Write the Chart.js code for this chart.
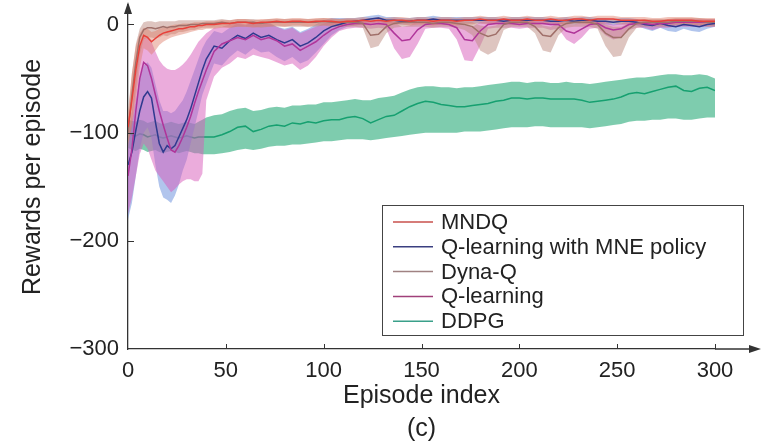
<!DOCTYPE html>
<html><head><meta charset="utf-8">
<script src="https://cdn.jsdelivr.net/npm/chart.js@4.4.0/dist/chart.umd.min.js"></script>
<style>html,body{margin:0;padding:0;background:#fff;}</style>
</head><body>
<canvas id="c" width="763" height="446"></canvas>
<script>
// ---------- data ----------
const EP = [0,2,4,6,8,10,12,14,16,18,20,22,24,26,28,30,32,34,36,38,40,
  44,48,52,56,60,64,68,72,76,80,84,88,92,96,100,104,108,112,116,120,
  124,128,132,136,140,144,148,152,156,160,164,168,172,176,180,184,188,192,196,200,
  204,208,212,216,220,224,228,232,236,240,244,248,252,256,260,264,268,272,276,280,
  284,288,292,296,300];

const SERIES_NAMES = ['MNDQ', 'Q-learning with MNE policy', 'Dyna-Q', 'Q-learning', 'DDPG'];
const X_TICKS = [0, 50, 100, 150, 200, 250, 300];
const Y_TICKS = [-300, -200, -100, 0];

const MNDQ_MEAN = [-95,-70,-42,-20,-10,-12,-16,-13,-10,-8,-7,-6,-5,-4,-4,-3,-2,-2,-1,-1,0,
  0,1,1,2,2,1,2,2,3,2, 3,3,2,3,3,3,2,3,3,4, 3,4,3,4,4,3,4,4,3,4,
  4,3,4,4,5,4,4,5,4,4, 5,4,4,5,4,4,5,5,4,5, 5,5,4,4,4,4,3,3,4,4, 4,4,3,3,3];
const MNDQ_HI = [-80,-45,-20,-8,-3,-4,-7,-6,-4,-3,-2,-1,0,0,1,1,1,2,2,2,3,
  3,4,4,5,5,4,5,5,6,5, 6,6,5,6,6,6,5,6,6,7, 6,7,6,7,7,6,7,7,6,7,
  7,6,7,7,8,7,7,8,7,7, 8,7,7,8,7,7,8,8,7,8, 8,8,7,7,7,7,6,6,7,7, 7,7,6,6,6];
const MNDQ_LO = [-110,-95,-70,-40,-22,-24,-28,-24,-19,-16,-14,-12,-11,-10,-9,-8,-7,-6,-5,-5,-4,
  -4,-3,-3,-2,-2,-3,-2,-2,-1,-2, -1,-1,-2,-1,-1,-1,-2,-1,-1,0, -1,0,-1,0,0,-1,0,0,-1,0,
  0,-1,0,0,1,0,0,1,0,0, 1,0,0,1,0,0,1,1,0,1, 1,1,0,0,0,0,-1,-1,0,0, 0,0,-1,-1,-1];

const MNE_MEAN = [-130,-118,-98,-80,-67,-62,-68,-90,-110,-118,-112,-115,-112,-104,-96,-88,-78,-66,-54,-42,-32,
  -20,-22,-15,-10,-13,-8,-12,-10,-14,-17, -14,-20,-17,-12,-6,-2,0,2,3,4, 5,6,4,4,3,3,4,4,5,4,
  4,4,4,4,4,4,4,3,4,4, 4,4,4,3,3,4,3,4,4,3, 3,2,3,3,2,0,-1,1,-1,-2, 0,-1,-2,0,1];
const MNE_HI = [-100,-90,-70,-50,-38,-35,-40,-55,-70,-80,-80,-82,-80,-75,-70,-62,-52,-42,-32,-22,-15,
  -6,-8,-3,1,-1,3,0,2,-2,-4, -2,-7,-4,0,4,6,6,6,6,7, 8,9,7,7,6,6,7,7,8,7,
  7,7,7,7,7,7,7,6,7,7, 7,7,7,6,6,7,6,7,7,6, 6,5,6,6,5,3,3,4,3,2, 4,3,2,4,4];
const MNE_LO = [-180,-165,-140,-115,-100,-95,-105,-130,-150,-160,-162,-165,-158,-148,-135,-125,-110,-95,-80,-65,-55,
  -36,-38,-30,-24,-28,-22,-26,-25,-30,-34, -30,-36,-33,-26,-18,-10,-5,-2,-1,0, 1,2,1,1,0,0,1,1,2,1,
  1,1,1,1,1,1,1,0,1,1, 1,1,1,0,0,1,0,1,1,0, 0,-1,0,0,-1,-4,-6,-3,-6,-7, -4,-6,-7,-4,-2];

const DYNAQ_MEAN = [-100,-65,-35,-12,-5,-3,-3,-4,-3,-2,-3,-2,-2,-1,-1,-1,0,0,0,1,1,
  1,2,1,2,2,2,1,2,2,2, 2,2,2,2,3,2,2,2,2,1, -10,-9,-2,1,2,2,2,2,1,2,
  2,1,0,-2,-8,-11,-9,0,2,2, 2,-2,-10,-11,-3,1,2,2,2,0, -8,-12,-12,-4,1,2,2,2,2,3, 3,3,3,2,2];
const DYNAQ_HI = [-85,-45,-18,-4,2,3,3,2,3,3,3,3,3,4,4,4,4,4,4,4,4,
  4,5,4,5,5,5,4,5,5,5, 5,5,5,5,6,5,5,5,5,4, -1,0,3,4,5,5,5,5,4,5,
  5,4,3,2,-1,-2,-1,3,5,5, 5,2,-1,-2,1,4,5,5,5,3, 0,-2,-2,1,4,5,5,5,5,6, 6,6,6,5,5];
const DYNAQ_LO = [-115,-90,-60,-28,-14,-12,-12,-13,-12,-10,-11,-9,-9,-7,-7,-6,-5,-5,-4,-3,-3,
  -3,-2,-3,-2,-2,-2,-3,-2,-2,-2, -2,-2,-2,-2,-1,-2,-2,-2,-2,-3, -22,-20,-8,-3,-2,-2,-2,-2,-3,-2,
  -2,-3,-5,-10,-24,-28,-24,-5,-2,-2, -2,-8,-24,-26,-10,-3,-2,-2,-2,-4, -20,-30,-29,-12,-3,-2,-2,-2,-2,-1, -1,-1,-1,-2,-2];

const QL_MEAN = [-140,-115,-80,-50,-35,-38,-50,-65,-80,-93,-105,-116,-118,-112,-104,-95,-85,-73,-62,-52,-42,
  -25,-18,-15,-12,-14,-10,-14,-12,-15,-20, -18,-24,-20,-16,-10,-5,-2,0,1,1, 0,1,0,-8,-15,-14,-5,0,1,1,
  0,-3,-14,-15,-6,0,1,1,1,0, 1,1,1,0,0,-6,-8,-4,0,1, -3,-5,-4,0,1,1,0,1,1,2, 2,2,2,2,2];
const QL_HI = [-110,-80,-45,-22,-12,-12,-16,-25,-33,-38,-41,-42,-42,-40,-37,-33,-28,-22,-16,-12,-8,
  -3,-2,0,2,0,2,0,1,-2,-5, -3,-8,-5,-2,1,3,3,4,4,4, 3,4,3,2,-2,-1,3,4,4,4,
  3,2,-1,-2,2,3,4,4,4,3, 4,4,4,3,3,1,0,2,3,4, 2,0,1,3,4,4,3,4,4,5, 5,5,5,5,5];
const QL_LO = [-175,-160,-140,-120,-110,-115,-125,-135,-140,-145,-150,-155,-152,-148,-145,-143,-143,-145,-145,-138,-70,
  -48,-40,-36,-30,-32,-28,-30,-32,-35,-38, -36,-42,-38,-30,-20,-12,-6,-4,-3,-3, -4,-3,-4,-22,-32,-30,-18,-4,-3,-3,
  -4,-14,-33,-34,-20,-4,-3,-3,-3,-4, -3,-3,-3,-5,-4,-14,-18,-12,-4,-3, -10,-14,-12,-5,-3,-3,-5,-3,-3,-2, -2,-2,-2,-2,-2];

const DDPG_MEAN = [-100,-102,-103,-101,-102,-104,-103,-102,-104,-105,-104,-103,-104,-105,-104,-103,-104,-105,-104,-104,-104,
  -104,-102,-99,-95,-94,-99,-97,-94,-93,-94, -91,-92,-90,-91,-89,-88,-88,-86,-85,-87, -91,-88,-85,-84,-80,-76,-73,-71,-72,-74,
  -75,-76,-76,-75,-74,-73,-71,-70,-68,-68, -69,-68,-68,-69,-69,-69,-69,-70,-72,-71, -70,-69,-67,-64,-63,-64,-62,-60,-58,-57, -61,-62,-59,-58,-61];
const DDPG_HI = [-88,-89,-90,-88,-89,-91,-90,-89,-91,-92,-91,-90,-91,-92,-91,-90,-91,-92,-90,-88,-86,
  -84,-83,-80,-78,-77,-80,-79,-77,-76,-77, -75,-75,-74,-74,-72,-72,-71,-70,-69,-70, -70,-68,-67,-66,-63,-60,-58,-57,-57,-58,
  -58,-59,-58,-58,-57,-56,-55,-54,-53,-53, -54,-53,-53,-54,-54,-53,-54,-54,-55,-54, -53,-52,-51,-50,-49,-49,-48,-47,-46,-46, -47,-47,-46,-47,-50];
const DDPG_LO = [-114,-116,-117,-115,-116,-118,-117,-116,-118,-119,-118,-117,-118,-119,-118,-117,-118,-119,-119,-120,-120,
  -120,-119,-118,-116,-115,-116,-115,-113,-112,-112, -111,-111,-110,-109,-108,-108,-107,-106,-106,-106, -107,-106,-105,-104,-103,-102,-101,-100,-100,-100,
  -100,-100,-99,-99,-99,-98,-97,-96,-95,-95, -95,-94,-94,-95,-95,-95,-95,-95,-96,-95, -94,-93,-92,-90,-89,-89,-88,-88,-87,-87, -88,-88,-87,-86,-86];

// ---------- styles ----------
const FONT = "'Liberation Sans', Arial, Helvetica, sans-serif";
const AXIS = '#333';
const STYLE = {
  'MNDQ':                       {line:'#e8403a', band:'rgba(222,125,105,0.45)', legend:'#c9504c', lineOrder:2, bandOrder:15},
  'Q-learning with MNE policy': {line:'#2f3a8f', band:'rgba(100,140,220,0.5)',  legend:'#3a3f80', lineOrder:5, bandOrder:18},
  'Dyna-Q':                     {line:'#a0706a', band:'rgba(190,140,130,0.5)',  legend:'#a08282', lineOrder:3, bandOrder:16},
  'Q-learning':                 {line:'#b0359a', band:'rgba(215,90,185,0.5)',   legend:'#a0407a', lineOrder:4, bandOrder:17},
  'DDPG':                       {line:'#16a070', band:'rgba(40,170,120,0.6)',   legend:'#3aa08a', lineOrder:19, bandOrder:20}
};
const DATA = {
  'MNDQ': [MNDQ_MEAN, MNDQ_HI, MNDQ_LO],
  'Q-learning with MNE policy': [MNE_MEAN, MNE_HI, MNE_LO],
  'Dyna-Q': [DYNAQ_MEAN, DYNAQ_HI, DYNAQ_LO],
  'Q-learning': [QL_MEAN, QL_HI, QL_LO],
  'DDPG': [DDPG_MEAN, DDPG_HI, DDPG_LO]
};

function pts(arr){ return EP.map((e,i)=>({x:e, y:arr[i]})); }

const datasets = [];
SERIES_NAMES.forEach(name => {
  const [m, hi, lo] = DATA[name];
  const s = STYLE[name];
  datasets.push({label:name+' band hi', data:pts(hi), borderColor:'transparent', borderWidth:0,
    backgroundColor:s.band, fill:'+1', pointRadius:0, order:s.bandOrder});
  datasets.push({label:name+' band lo', data:pts(lo), borderColor:'transparent', borderWidth:0,
    backgroundColor:'transparent', fill:false, pointRadius:0, order:s.bandOrder});
  datasets.push({label:name, data:pts(m), borderColor:s.line, borderWidth:1.5,
    fill:false, pointRadius:0, order:s.lineOrder});
});

const deco = {
  id:'deco',
  afterDraw(chart){
    const {ctx, chartArea:a, scales:{x, y}} = chart;
    ctx.save();
    ctx.strokeStyle = AXIS; ctx.fillStyle = AXIS; ctx.lineWidth = 1.3;
    // x axis extension + arrow
    ctx.beginPath(); ctx.moveTo(a.right, a.bottom); ctx.lineTo(752, a.bottom); ctx.stroke();
    ctx.beginPath(); ctx.moveTo(761, a.bottom); ctx.lineTo(749, a.bottom-4); ctx.lineTo(749, a.bottom+4); ctx.closePath(); ctx.fill();
    // y axis arrow
    ctx.beginPath(); ctx.moveTo(a.left, a.top-3); ctx.lineTo(a.left-4, a.top+9); ctx.lineTo(a.left+4, a.top+9); ctx.closePath(); ctx.fill();
    // inward ticks
    ctx.lineWidth = 1;
    X_TICKS.forEach(v => { if (v === 0) return; const px = Math.round(x.getPixelForValue(v))+0.5;
      ctx.beginPath(); ctx.moveTo(px, a.bottom); ctx.lineTo(px, a.bottom-5); ctx.stroke(); });
    Y_TICKS.forEach(v => { if (v === -300) return; const py = Math.round(y.getPixelForValue(v))+0.5;
      ctx.beginPath(); ctx.moveTo(a.left, py); ctx.lineTo(a.left+6, py); ctx.stroke(); });
    // legend
    const bx = 382, by = 205, bw = 361, bh = 130;
    ctx.fillStyle = '#fff'; ctx.fillRect(bx, by, bw, bh);
    ctx.strokeStyle = '#444'; ctx.lineWidth = 1; ctx.strokeRect(bx+0.5, by+0.5, bw, bh);
    ctx.font = '22px ' + FONT; ctx.textBaseline = 'middle'; ctx.textAlign = 'left';
    SERIES_NAMES.forEach((name, i) => {
      const ly = by + 17 + i*24.8;
      ctx.strokeStyle = STYLE[name].legend; ctx.lineWidth = 1.5;
      ctx.beginPath(); ctx.moveTo(393, ly); ctx.lineTo(433, ly); ctx.stroke();
      ctx.fillStyle = '#222'; ctx.fillText(name, 441, ly + 1);
    });
    ctx.restore();
  }
};

Chart.defaults.font.family = FONT;
new Chart(document.getElementById('c'), {
  type: 'line',
  data: { datasets },
  plugins: [deco],
  options: {
    responsive: false, animation: false, devicePixelRatio: 1,
    layout: { padding: { top: 5, right: 48, bottom: 0, left: 0 } },
    plugins: { legend: { display: false }, tooltip: { enabled: false } },
    elements: { line: { tension: 0 } },
    scales: {
      x: {
        type: 'linear', min: 0, max: 300,
        afterBuildTicks: s => { s.ticks = X_TICKS.map(v => ({value: v})); },
        afterFit: s => { s.height = 97; s.paddingLeft = 0; s.paddingRight = 0; },
        grid: { display: false, drawTicks: false },
        border: { display: true, color: AXIS, width: 1.3 },
        ticks: { font: { size: 22 }, color: '#222', padding: 9, maxRotation: 0, autoSkip: false },
        title: { display: true, text: ['Episode index', '(c)'], color: '#222',
                 font: { size: 25, lineHeight: 1.32 }, padding: { top: 0, bottom: 0 } }
      },
      y: {
        type: 'linear', min: -300, max: 18,
        afterBuildTicks: s => { s.ticks = Y_TICKS.map(v => ({value: v})); },
        afterFit: s => { s.width = 128; s.paddingTop = 0; s.paddingBottom = 0; },
        grid: { display: false, drawTicks: false },
        border: { display: true, color: AXIS, width: 1.3 },
        ticks: { font: { size: 22 }, color: '#222', padding: 9,
                 callback: v => v < 0 ? '\u2212' + Math.abs(v) : String(v) },
        title: { display: true, text: 'Rewards per episode', color: '#222',
                 font: { size: 25, lineHeight: 1.2 }, padding: { top: 18, bottom: 0 } }
      }
    }
  }
});
</script>
</body></html>
